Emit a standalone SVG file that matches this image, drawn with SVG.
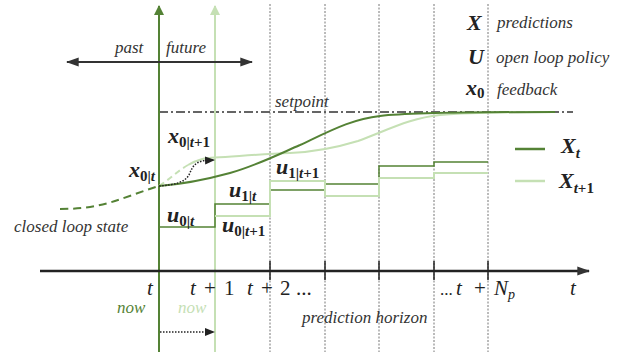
<svg xmlns="http://www.w3.org/2000/svg" width="643" height="352" viewBox="0 0 643 352">
<defs>
<style>
.grid{stroke:#777;stroke-width:1;stroke-dasharray:2 1.5;fill:none}
.dk{stroke:#548235;fill:none}
.lt{stroke:#c5e0b4;fill:none}
.it{font-family:"Liberation Serif",serif;font-style:italic;fill:#333;font-size:17px}
.m{font-family:"Liberation Serif",serif;font-style:italic;font-weight:bold;fill:#222;font-size:22px}
.sub{font-size:15px}
.ax{font-family:"Liberation Serif",serif;fill:#222;font-size:21px}
</style>
<marker id="ah" viewBox="0 0 10 10" refX="9" refY="5" markerWidth="10" markerHeight="10" markerUnits="userSpaceOnUse" orient="auto-start-reverse"><path d="M0,1 L10,5 L0,9 z" fill="#222"/></marker>
<marker id="ahb" viewBox="0 0 10 10" refX="9" refY="5" markerWidth="13" markerHeight="13" markerUnits="userSpaceOnUse" orient="auto-start-reverse"><path d="M0,1.5 L10,5 L0,8.5 z" fill="#333"/></marker>
<marker id="ahd" viewBox="0 0 10 10" refX="9" refY="5" markerWidth="10" markerHeight="10" markerUnits="userSpaceOnUse" orient="auto"><path d="M0,0 L10,5 L0,10 z" fill="#548235"/></marker>
<marker id="ahl" viewBox="0 0 10 10" refX="9" refY="5" markerWidth="10" markerHeight="10" markerUnits="userSpaceOnUse" orient="auto"><path d="M0,0 L10,5 L0,10 z" fill="#c5e0b4"/></marker>
</defs>
<rect width="643" height="352" fill="#fff"/>

<g id="grid">
<line class="grid" x1="270" y1="4" x2="270" y2="352"/>
<line class="grid" x1="325" y1="4" x2="325" y2="352"/>
<line class="grid" x1="379" y1="4" x2="379" y2="352"/>
<line class="grid" x1="434" y1="4" x2="434" y2="352"/>
<line class="grid" x1="488" y1="4" x2="488" y2="352"/>
</g>

<g id="setpoint">
<line x1="159" y1="112" x2="573" y2="112" stroke="#333" stroke-width="1.5" stroke-dasharray="9 3 2 3"/>
<text class="it" x="275" y="107">setpoint</text>
</g>

<g id="now-axes">
<line class="dk" x1="159" y1="352" x2="159" y2="6" stroke-width="2" marker-end="url(#ahd)"/>
<line class="lt" x1="215" y1="352" x2="215" y2="6" stroke-width="2" marker-end="url(#ahl)"/>
</g>

<g id="time-axis">
<line x1="40" y1="271" x2="589" y2="271" stroke="#222" stroke-width="2.5" marker-end="url(#ahb)"/>
<g stroke="#222" stroke-width="1.5">
<line x1="270" y1="261" x2="270" y2="280"/>
<line x1="325" y1="261" x2="325" y2="280"/>
<line x1="379" y1="261" x2="379" y2="280"/>
<line x1="434" y1="261" x2="434" y2="280"/>
<line x1="488" y1="261" x2="488" y2="280"/>
</g>
</g>

<g id="past-future">
<line x1="67" y1="62" x2="252" y2="62" stroke="#333" stroke-width="2" marker-start="url(#ahb)" marker-end="url(#ahb)"/>
<text class="it" x="115" y="53">past</text>
<text class="it" x="166" y="53">future</text>
</g>

<g id="connectors">
<path class="dk" d="M60,209 C105,209 120,198 159,186" stroke-width="2" stroke-dasharray="8 5"/>
<path class="lt" d="M159,186 C170,179 179,170 188,165" stroke-width="2" stroke-dasharray="6 4"/>
<path class="lt" d="M188,165 C198,159 205,158 215,157.5 C240,156 262,154 290,153 C315,152 335,148 358,141 C388,130 410,118 440,115 C470,112.5 510,112 555,112" stroke-width="2"/>
<path class="dk" d="M159,186 C185,184 208,179 230,173 C255,166 275,156 300,145 C330,131 352,119 380,116 C410,112.5 470,112 555,112" stroke-width="2"/>
<path d="M159,186 C175,185 185,182 189,175 C192,168 194,162 205,160.5 L214,160" fill="none" stroke="#222" stroke-width="1.5" stroke-dasharray="1.5 1.5" marker-end="url(#ah)"/>
<path class="dk" d="M159,227 H215 V204 H270 V190 H325 V184 H379 V166 H434 V162 H488" stroke-width="1.5"/>
<path class="lt" d="M215,216 H270 V181 H325 V196 H379 V178 H434 V173 H488" stroke-width="2"/>
<line x1="160" y1="332" x2="214" y2="332" stroke="#222" stroke-width="1.5" stroke-dasharray="1.5 1.5" marker-end="url(#ah)"/>
</g>

<g id="labels-state">
<text class="m" x="129" y="177">x<tspan class="sub" dy="4" font-style="normal">0|</tspan><tspan class="sub">t</tspan></text>
<text class="m" x="168" y="143">x<tspan class="sub" dy="4" font-style="normal">0|</tspan><tspan class="sub">t</tspan><tspan class="sub" font-style="normal">+1</tspan></text>
<text class="it" x="14" y="232">closed loop state</text>
</g>

<g id="labels-input">
<text class="m" x="167" y="222">u<tspan class="sub" dy="4" font-style="normal">0|</tspan><tspan class="sub">t</tspan></text>
<text class="m" x="229" y="197">u<tspan class="sub" dy="4" font-style="normal">1|</tspan><tspan class="sub">t</tspan></text>
<text class="m" x="222" y="232">u<tspan class="sub" dy="4" font-style="normal">0|</tspan><tspan class="sub">t</tspan><tspan class="sub" font-style="normal">+1</tspan></text>
<text class="m" x="276" y="174">u<tspan class="sub" dy="4" font-style="normal">1|</tspan><tspan class="sub">t</tspan><tspan class="sub" font-style="normal">+1</tspan></text>
</g>

<g id="axis-labels">
<text class="ax" x="147" y="295" font-style="italic">t</text>
<text class="ax" y="295"><tspan x="190" font-style="italic">t</tspan><tspan x="204">+</tspan><tspan x="224">1</tspan></text>
<text class="ax" y="295"><tspan x="247" font-style="italic">t</tspan><tspan x="261">+</tspan><tspan x="280">2</tspan><tspan x="296">...</tspan></text>
<text class="ax" y="295"><tspan x="440" font-size="17">...</tspan><tspan x="456" font-style="italic">t</tspan><tspan x="474">+</tspan><tspan x="494" font-style="italic">N</tspan><tspan font-style="italic" font-size="14" dy="4">p</tspan></text>
<text class="ax" x="570" y="295" font-style="italic">t</text>
<text class="it" x="117" y="313" style="fill:#548235">now</text>
<text class="it" x="178" y="313" style="fill:#c5e0b4">now</text>
<text class="it" x="302" y="323">prediction horizon</text>
</g>

<g id="legend">
<text class="m" x="467" y="30" font-size="20">X</text>
<text class="it" x="497" y="28">predictions</text>
<text class="m" x="468" y="64" font-size="20">U</text>
<text class="it" x="496" y="63">open loop policy</text>
<text class="m" x="466" y="95" font-size="20">x<tspan class="sub" dy="3" font-style="normal" font-size="13">0</tspan></text>
<text class="it" x="497" y="95">feedback</text>
<line class="dk" x1="515" y1="149" x2="545" y2="149" stroke-width="2.5"/>
<text class="m" x="561" y="153">X<tspan class="sub" dy="5">t</tspan></text>
<line class="lt" x1="515" y1="181" x2="545" y2="181" stroke-width="2.5"/>
<text class="m" x="559" y="188">X<tspan class="sub" dy="5">t</tspan><tspan class="sub" font-style="normal">+1</tspan></text>
</g>
</svg>
